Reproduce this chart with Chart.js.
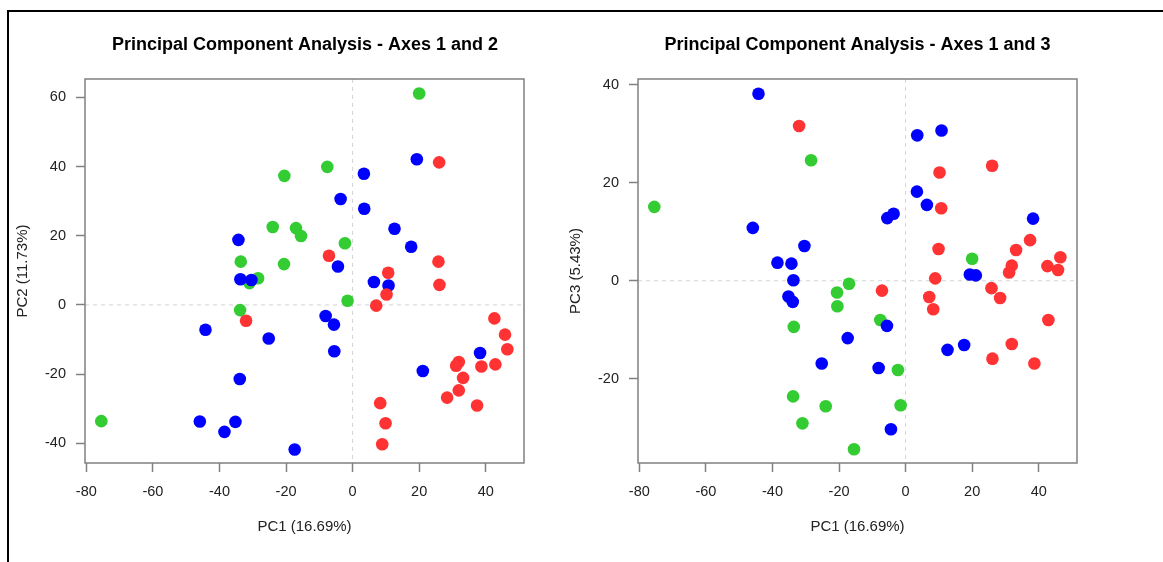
<!DOCTYPE html>
<html>
<head>
<meta charset="utf-8">
<title>Principal Component Analysis</title>
<script src="https://cdn.jsdelivr.net/npm/chart.js@4.4.1/dist/chart.umd.min.js"></script>
<style>
    html, body { margin: 0; padding: 0; background: #fff; }
    body { width: 1163px; height: 562px; position: relative; overflow: hidden; }
    #frame {
        position: absolute; left: 7px; top: 10px; width: 1170px; height: 570px;
        border-top: 2px solid #000; border-left: 2px solid #000;
    }
    canvas { position: absolute; top: 0; }
    #pca12 { left: 0; }
    #pca13 { left: 560px; }
</style>
</head>
<body>
<div id="frame"></div>
<canvas id="pca12" width="610" height="562"></canvas>
<canvas id="pca13" width="595" height="562"></canvas>

<script>
// ── Data ──────────────────────────────────────────────────────────────────────
const pc1Ticks = [-80, -60, -40, -20, 0, 20, 40];
const pc2Ticks = [-40, -20, 0, 20, 40, 60];
const pc3Ticks = [-20, 0, 20, 40];

const bluePC1 = [-45.9, -44.2, -38.5, -35.2, -34.3, -33.9, -33.7, -30.4, -25.2, -17.4, -8.1, -5.6,
                 -5.5, -4.4, -3.6, 3.4, 3.5, 6.4, 10.8, 12.6, 17.6, 19.3, 21.1, 38.3];
const bluePC2 = [-33.7, -7.2, -36.7, -33.8, 18.8, -21.4, 7.4, 7.2, -9.7, -41.8, -3.2, -5.7,
                 -13.4, 11.1, 30.6, 37.9, 27.8, 6.6, 5.6, 22.0, 16.8, 42.1, -19.1, -13.9];
const bluePC3 = [10.8, 38.2, 3.7, -3.2, 3.5, -4.3, 0.1, 7.1, -16.9, -11.7, -17.8, -9.2,
                 12.8, -30.3, 13.7, 18.2, 29.7, 15.5, 30.7, -14.1, -13.1, 1.3, 1.1, 12.7];

const greenPC1 = [-75.5, -33.8, -33.6, -31.0, -28.4, -24.0, -20.6, -20.5, -17.0, -15.5, -7.6, -2.3, -1.5, 20.0];
const greenPC2 = [-33.6, -1.5, 12.5, 6.3, 7.7, 22.5, 11.8, 37.3, 22.2, 19.9, 39.9, 17.8, 1.2, 61.1];
const greenPC3 = [15.1, -23.6, -9.4, -29.1, 24.6, -25.6, -2.4, -5.2, -0.6, -34.4, -8.0, -18.2, -25.4, 4.5];

const redPC1 = [-32.0, -7.1, 7.1, 8.3, 8.9, 9.9, 10.2, 10.7, 25.8, 26.0, 26.1, 28.4, 31.1, 31.9,
                31.9, 33.2, 37.4, 38.7, 42.6, 42.9, 45.8, 46.5];
const redPC2 = [-4.6, 14.2, -0.2, -28.4, -40.3, -34.2, 3.0, 9.3, 12.5, 41.2, 5.8, -26.8, -17.6, -16.5,
                -24.7, -21.1, -29.1, -17.8, -3.9, -17.2, -8.6, -12.8];
const redPC3 = [31.6, -2.0, -3.3, -5.8, 0.5, 6.5, 22.1, 14.8, -1.5, 23.5, -15.9, -3.5, 1.7, 3.1,
                -12.9, 6.3, 8.3, -16.9, 3.0, -8.0, 2.2, 4.8];

// ── Look ──────────────────────────────────────────────────────────────────────
const FONT       = '"Liberation Sans", Arial, Helvetica, sans-serif';
const AXIS_GREY  = '#808080';
const TEXT_COLOR = '#222';

// R-style box around the plot region plus dashed zero lines
const rFramePlugin = {
    id: 'rFrame',
    beforeDatasetsDraw(chart) {
        const { ctx, chartArea: a, scales } = chart;
        const x0 = scales.x.getPixelForValue(0);
        const y0 = scales.y.getPixelForValue(0);
        ctx.save();
        ctx.strokeStyle = '#d4d4d4';
        ctx.lineWidth = 1;
        ctx.setLineDash([4, 4]);
        ctx.beginPath();
        ctx.moveTo(x0, a.top);  ctx.lineTo(x0, a.bottom);
        ctx.moveTo(a.left, y0); ctx.lineTo(a.right, y0);
        ctx.stroke();
        ctx.restore();
    },
    afterDatasetsDraw(chart) {
        const { ctx, chartArea: a } = chart;
        ctx.save();
        ctx.strokeStyle = AXIS_GREY;
        ctx.lineWidth = 1.5;
        ctx.strokeRect(a.left, a.top, a.right - a.left, a.bottom - a.top);
        ctx.restore();
    },
};

function toPoints(xs, ys) {
    return xs.map((x, i) => ({ x, y: ys[i] }));
}

function pcaChart(canvasId, cfg) {
    const series = [
        { color: '#ff3333', ys: cfg.red,   xs: redPC1 },
        { color: '#0000ff', ys: cfg.blue,  xs: bluePC1 },
        { color: '#33cc33', ys: cfg.green, xs: greenPC1 },
    ];

    const tickGrid = {
        drawOnChartArea: false,
        drawTicks:       true,
        tickLength:      9,
        tickWidth:       1.5,
        tickColor:       AXIS_GREY,
    };

    return new Chart(document.getElementById(canvasId), {
        type: 'scatter',
        data: {
            datasets: series.map(s => ({
                data:             toPoints(s.xs, s.ys),
                backgroundColor:  s.color,
                pointRadius:      6.3,
                pointBorderWidth: 0,
                pointHoverRadius: 6.3,
            })),
        },
        options: {
            responsive: false,
            animation:  false,
            events:     [],
            layout:     { padding: 0 },
            plugins: {
                legend:  { display: false },
                tooltip: { enabled: false },
                title: {
                    display: true,
                    text:    cfg.title,
                    color:   '#000',
                    font:    { family: FONT, size: 18, weight: 'bold', lineHeight: 1.2 },
                    padding: { top: 34, bottom: 23.4 },
                },
            },
            scales: {
                x: {
                    type: 'linear', position: 'bottom',
                    min: -80.4, max: 51.5,
                    afterBuildTicks: s => { s.ticks = pc1Ticks.map(v => ({ value: v })); },
                    afterFit:        s => { s.height = 99; },
                    grid:   tickGrid,
                    border: { display: false },
                    ticks:  { color: TEXT_COLOR, padding: 11, maxRotation: 0, font: { family: FONT, size: 14.5 } },
                    title:  {
                        display: true, text: 'PC1 (16.69%)', color: TEXT_COLOR,
                        font: { family: FONT, size: 15 }, padding: { bottom: 26 },
                    },
                },
                y: {
                    type: 'linear', position: 'left',
                    min: cfg.yMin, max: cfg.yMax,
                    afterBuildTicks: s => { s.ticks = cfg.yTicks.map(v => ({ value: v })); },
                    afterFit:        s => { s.width = cfg.leftW; },
                    grid:   tickGrid,
                    border: { display: false },
                    ticks:  { color: TEXT_COLOR, padding: 10, font: { family: FONT, size: 14.5 } },
                    title:  {
                        display: true, text: cfg.yTitle, color: TEXT_COLOR,
                        font: { family: FONT, size: 15 }, padding: { top: cfg.yTitlePad },
                    },
                },
                // empty right-hand spacer so the title centres over the plot region
                spacer: {
                    type: 'linear', position: 'right',
                    afterFit: s => { s.width = cfg.rightW; },
                    grid:   { display: false },
                    border: { display: false },
                    ticks:  { display: false },
                },
            },
        },
        plugins: [rFramePlugin],
    });
}

// ── Init ──────────────────────────────────────────────────────────────────────
pcaChart('pca12', {
    title: 'Principal Component Analysis - Axes 1 and 2',
    yTitle: 'PC2 (11.73%)',
    yMin: -45.7, yMax: 65.3, yTicks: pc2Ticks,
    red: redPC2, blue: bluePC2, green: greenPC2,
    leftW: 85, rightW: 86, yTitlePad: 14,
});

pcaChart('pca13', {
    title: 'Principal Component Analysis - Axes 1 and 3',
    yTitle: 'PC3 (5.43%)',
    yMin: -37.2, yMax: 41.2, yTicks: pc3Ticks,
    red: redPC3, blue: bluePC3, green: greenPC3,
    leftW: 78, rightW: 78, yTitlePad: 7,
});
</script>
</body>
</html>
